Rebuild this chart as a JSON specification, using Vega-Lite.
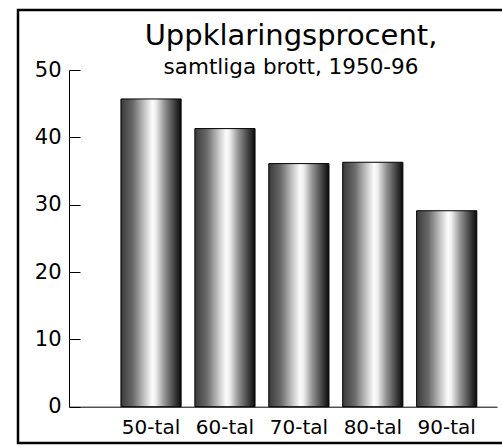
{
  "$schema": "https://vega.github.io/schema/vega-lite/v6.json",
  "autosize": "none",
  "width": 486,
  "height": 433,
  "padding": {"left": 18, "top": 10, "right": -2, "bottom": 3},
  "background": "white",
  "config": {
    "view": {"stroke": "black", "strokeWidth": 2.5},
    "font": "DejaVu Sans"
  },
  "title": {
    "text": "Uppklaringsprocent,",
    "subtitle": "samtliga brott, 1950-96",
    "anchor": "middle",
    "frame": "group",
    "font": "DejaVu Sans",
    "fontSize": 29,
    "fontWeight": "normal",
    "color": "black",
    "subtitleFont": "DejaVu Sans",
    "subtitleFontSize": 21.5,
    "subtitleColor": "black",
    "subtitlePadding": 6,
    "offset": -68,
    "dx": 30
  },
  "data": {
    "values": [
      {"period": "50-tal", "procent": 45.7},
      {"period": "60-tal", "procent": 41.3},
      {"period": "70-tal", "procent": 36.1},
      {"period": "80-tal", "procent": 36.3},
      {"period": "90-tal", "procent": 29.1}
    ]
  },
  "mark": {
    "type": "bar",
    "stroke": "black",
    "strokeWidth": 1,
    "color": {
      "gradient": "linear",
      "x1": 0, "x2": 1, "y1": 0, "y2": 0,
      "stops": [
        {"offset": 0, "color": "#3a3a3a"},
        {"offset": 0.2, "color": "#6a6a6a"},
        {"offset": 0.4, "color": "#c8c8c8"},
        {"offset": 0.52, "color": "#fcfcfc"},
        {"offset": 0.58, "color": "#eeeeee"},
        {"offset": 0.72, "color": "#959595"},
        {"offset": 0.87, "color": "#4a4a4a"},
        {"offset": 1, "color": "#0a0a0a"}
      ]
    }
  },
  "encoding": {
    "x": {
      "field": "period",
      "type": "nominal",
      "sort": null,
      "scale": {"range": [51, 479], "paddingInner": 0.186, "paddingOuter": 0.488, "align": 0.72},
      "axis": {
        "title": null,
        "orient": "bottom",
        "offset": -36.3,
        "ticks": false,
        "labelAngle": 0,
        "labelPadding": 11,
        "labelFont": "DejaVu Sans",
        "labelFontSize": 20,
        "labelColor": "black",
        "domainColor": "black",
        "domainWidth": 1
      }
    },
    "y": {
      "field": "procent",
      "type": "quantitative",
      "scale": {"domain": [0, 50], "range": [396.7, 60], "nice": false},
      "axis": {
        "title": null,
        "orient": "left",
        "offset": -51,
        "values": [0, 10, 20, 30, 40, 50],
        "grid": false,
        "tickSize": -11,
        "tickColor": "black",
        "tickWidth": 1,
        "labelPadding": 19,
        "labelFont": "DejaVu Sans",
        "labelFontSize": 21,
        "labelColor": "black",
        "domainColor": "black",
        "domainWidth": 1
      }
    }
  }
}
